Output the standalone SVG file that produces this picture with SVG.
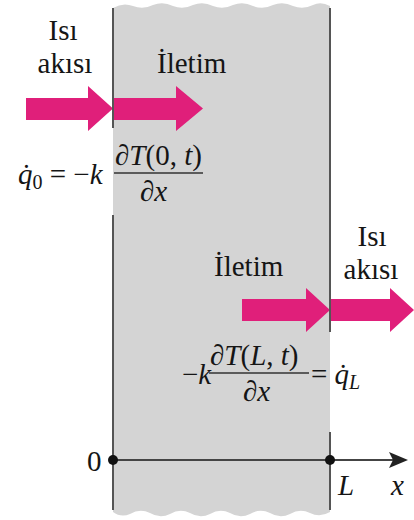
<svg xmlns="http://www.w3.org/2000/svg" width="414" height="520" viewBox="0 0 414 520" font-family="Liberation Serif, DejaVu Serif, serif">
<style>
text{font-family:"Liberation Serif","DejaVu Serif",serif;fill:#151515}
.t{font-size:29px}
.m{font-size:29px}
.i{font-style:italic}
.s{font-size:20px}
.arr{fill:#E01F7A}
.edge{stroke:#555;stroke-width:2;fill:none}
.bar{stroke:#333;stroke-width:1.5}
</style>
<rect width="414" height="520" fill="#fff"/>
<g id="slab">
<path d="M113,8 Q123,2 133,6 Q143,10 153,5 Q163,1 173,6 Q183,10 193,5 Q203,1 213,6 Q223,10 233,5 Q243,1 253,6 Q263,10 273,5 Q283,1 293,6 Q303,10 313,5 Q321,1 330,6 L330,512 Q320,518 310,513 Q300,508 290,514 Q280,519 270,513 Q260,508 250,514 Q240,519 230,513 Q220,508 210,514 Q200,519 190,513 Q180,508 170,514 Q160,519 150,513 Q140,508 130,514 Q121,518 113,512 Z" fill="#D4D4D4"/>
</g>
<g id="arrows">
<path class="arr" d="M26,98 H88 V86 L113,108.5 L88,131 V120 H26 Z"/>
<path class="arr" d="M113,98 H176 V86 L203,108.5 L176,131 V120 H113 Z"/>
<path class="arr" d="M242,299 H306 V288 L330,310 L306,332 V321 H242 Z"/>
<path class="arr" d="M330,299 H390 V288 L414,310 L390,332 V321 H330 Z"/>
</g>
<g id="edges">
<line class="edge" x1="113" y1="8" x2="113" y2="128"/>
<line class="edge" x1="113" y1="215" x2="113" y2="510"/>
<line class="edge" x1="330" y1="8" x2="330" y2="332"/>
<line class="edge" x1="330" y1="432" x2="330" y2="510"/>
</g>
<g id="axis">
<line x1="113" y1="460" x2="396" y2="460" stroke="#444" stroke-width="2"/>
<path d="M408,460 L389,452 L393,460 L389,468 Z" fill="#222"/>
<circle cx="113" cy="460" r="5" fill="#111"/>
<circle cx="330" cy="460" r="5" fill="#111"/>
<text class="m" x="87" y="471">0</text>
<text class="m i" x="338" y="495">L</text>
<text class="m i" x="391" y="495">x</text>
</g>
<g id="labels">
<text class="t" x="63" y="40" text-anchor="middle">Isı</text>
<text class="t" x="65" y="73" text-anchor="middle">akısı</text>
<text class="t" x="157" y="73">İletim</text>
<text class="t" x="372" y="246" text-anchor="middle">Isı</text>
<text class="t" x="371" y="279" text-anchor="middle">akısı</text>
<text class="t" x="214" y="276">İletim</text>
</g>
<g id="formula0">
<text class="m" x="18" y="184"><tspan class="i">q̇</tspan><tspan class="s" dy="5">0</tspan><tspan dy="-5"> = −</tspan><tspan class="i">k</tspan></text>
<text class="m" x="115" y="165">∂<tspan class="i">T</tspan>(0, <tspan class="i">t</tspan>)</text>
<line class="bar" x1="114" y1="173" x2="203" y2="173"/>
<text class="m" x="140" y="201">∂<tspan class="i">x</tspan></text>
</g>
<g id="formulaL">
<text class="m" x="182" y="384">−<tspan class="i">k</tspan></text>
<text class="m" x="210" y="365">∂<tspan class="i">T</tspan>(<tspan class="i">L</tspan>, <tspan class="i">t</tspan>)</text>
<line class="bar" x1="209" y1="373" x2="309" y2="373"/>
<text class="m" x="243" y="401">∂<tspan class="i">x</tspan></text>
<text class="m" x="311" y="384">= <tspan class="i">q̇</tspan><tspan class="s i" dy="5">L</tspan></text>
</g>
</svg>
